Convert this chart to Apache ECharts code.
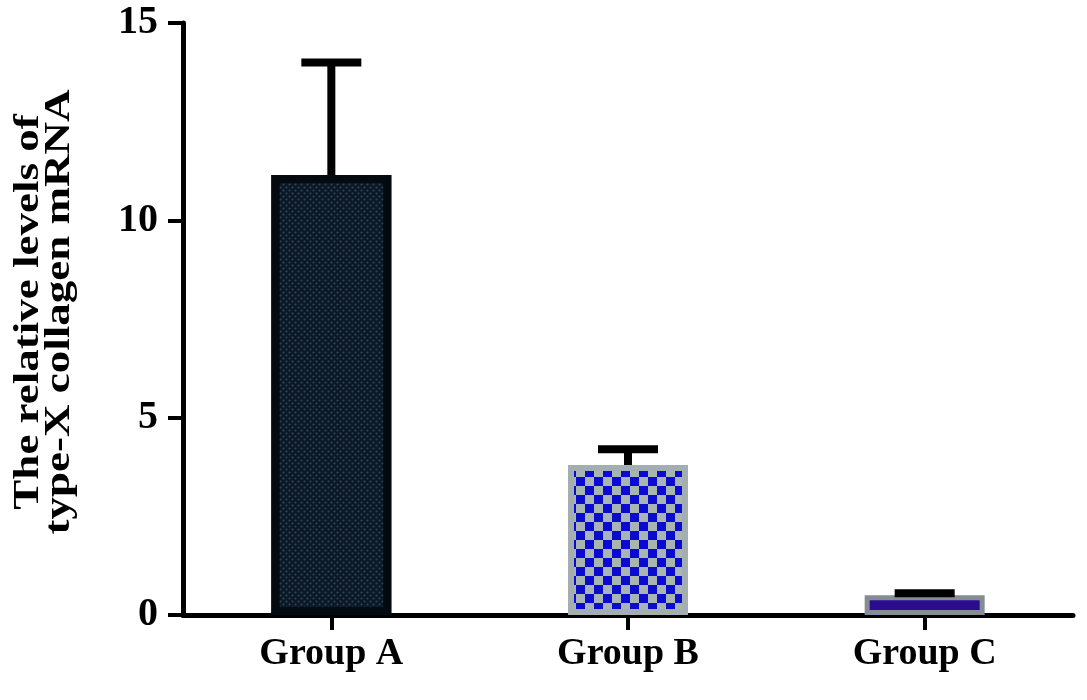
<!DOCTYPE html>
<html>
<head>
<meta charset="utf-8">
<script src="https://cdn.jsdelivr.net/npm/echarts@6/dist/echarts.min.js"></script>
<style>
html,body{margin:0;padding:0;background:#fff;}
#chart{width:1087px;height:700px;}
</style>
</head>
<body>
<div id="chart"></div>
<script>
var categories = ['Group A', 'Group B', 'Group C'];
var means = [11.15, 3.8, 0.5];
var errors = [2.85, 0.4, 0.05];
var yMin = 0, yMax = 15, yInterval = 5;
var yTitle = 'The relative levels of\ntype-X collagen mRNA';

var FONT = '"Liberation Serif", "Times New Roman", serif';

var barStyles = [
  {
    color: '#0c1826',
    borderColor: '#050a0e',
    borderWidth: 8,
    decal: {
      symbol: 'circle',
      symbolSize: 0.7,
      color: '#2c4b5a',
      dashArrayX: [[3, 3], [0, 3, 3, 0]],
      dashArrayY: [3, 0],
      rotation: 0
    }
  },
  {
    color: '#a9b5b0',
    borderColor: '#a3aeb0',
    borderWidth: 6,
    decal: {
      symbol: 'rect',
      symbolSize: 1,
      color: '#0a0ad0',
      dashArrayX: [[9, 9], [0, 9, 9, 0]],
      dashArrayY: [9, 0],
      rotation: 0
    }
  },
  {
    color: '#2a0c8c',
    borderColor: '#858c94',
    borderWidth: 5
  }
];

var barData = means.map(function (v, i) {
  return { value: v, itemStyle: barStyles[i] };
});
var errData = means.map(function (v, i) { return [i, v, v + errors[i]]; });

var chart = echarts.init(document.getElementById('chart'));
chart.setOption({
  animation: false,
  backgroundColor: '#ffffff',
  grid: { left: 183, right: 14, top: 23, bottom: 85, containLabel: false },
  graphic: [
    {
      type: 'text',
      x: 44,
      y: 312,
      rotation: Math.PI / 2,
      scaleX: 1,
      scaleY: 0.8,
      style: {
        text: yTitle,
        fill: '#000',
        font: 'bold 45px ' + FONT,
        lineHeight: 38,
        align: 'center',
        verticalAlign: 'middle'
      }
    }
  ],
  xAxis: {
    type: 'category',
    data: categories,
    axisLine: { show: true, lineStyle: { color: '#000', width: 5 } },
    axisTick: { show: true, alignWithLabel: true, length: 15, lineStyle: { color: '#000', width: 4 } },
    axisLabel: { color: '#000', fontFamily: FONT, fontWeight: 'bold', fontSize: 38, margin: 20 },
    splitLine: { show: false }
  },
  yAxis: {
    type: 'value',
    min: yMin, max: yMax, interval: yInterval,
    axisLine: { show: true, lineStyle: { color: '#000', width: 5 } },
    axisTick: { show: true, length: 15, lineStyle: { color: '#000', width: 4 } },
    axisLabel: { color: '#000', fontFamily: FONT, fontWeight: 'bold', fontSize: 40, margin: 25 },
    splitLine: { show: false }
  },
  series: [
    {
      type: 'bar',
      data: barData,
      barWidth: 120,
      z: 2
    },
    {
      type: 'custom',
      data: errData,
      z: 3,
      renderItem: function (params, api) {
        var x = api.value(0);
        var lo = api.coord([x, api.value(1)]);
        var hi = api.coord([x, api.value(2)]);
        var half = 30;
        return {
          type: 'group',
          children: [
            { type: 'line', shape: { x1: lo[0], y1: lo[1], x2: hi[0], y2: hi[1] }, style: { stroke: '#000', lineWidth: 8 } },
            { type: 'line', shape: { x1: hi[0] - half, y1: hi[1], x2: hi[0] + half, y2: hi[1] }, style: { stroke: '#000', lineWidth: 8 } }
          ]
        };
      }
    }
  ]
});
</script>
</body>
</html>
